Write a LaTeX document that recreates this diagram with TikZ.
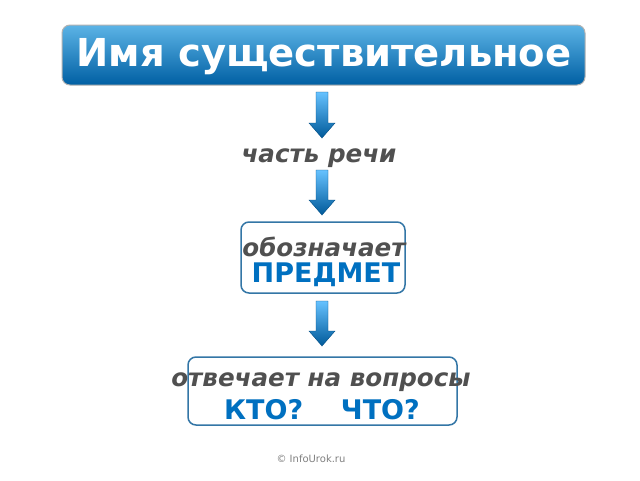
\documentclass[tikz,border=0pt]{standalone}
\usepackage{fontspec}
\setmainfont{DejaVu Sans}
\definecolor{bl}{RGB}{0,112,192}
\definecolor{tx}{RGB}{80,80,80}
\tikzset{
  darr/.style={top color=blue!40!cyan!60!white, bottom color=bl!80!black, draw=bl!70!black, line width=0.4pt},
  wbox/.style={draw=bl!60!gray, line width=1.5pt, rounded corners=8pt, fill=white},
  gtxt/.style={text=tx, font=\bfseries\itshape\fontsize{24.6}{26}\selectfont},
  btxt/.style={text=bl, font=\bfseries\fontsize{27}{29}\selectfont}
}
\newcommand{\downarr}[3]{% x, ytop, ytip
  \shade[darr] (#1-6,#2) -- (#1+6,#2) -- (#1+6,#3-15) -- (#1+13,#3-15) -- (#1,#3) -- (#1-13,#3-15) -- (#1-6,#3-15) -- cycle;}
\begin{document}
\begin{tikzpicture}[x=1pt,y=-1pt]
\useasboundingbox (0,0) rectangle (640,480);
\fill[white] (0,0) rectangle (640,480);
\shade[top color=blue!30!cyan!40!white!60!bl, bottom color=bl!85!black, rounded corners=8pt, draw=gray!60, line width=1pt] (62,25) rectangle (585,85);
\node (title) at (324,57) {\textcolor{white}{\bfseries\fontsize{38.5}{40}\selectfont Имя существительное}};
\downarr{322}{92}{138}
\node[gtxt] (part) at (319,158) {часть речи};
\downarr{322}{170}{215}
\draw[wbox] (241,222) rectangle (405,293);
\node[gtxt] (obo) at (324,247) {обозначает};
\node[btxt] (pred) at (326,275) {ПРЕДМЕТ};
\downarr{322}{301}{346}
\draw[wbox] (188,357) rectangle (457,425);
\node[gtxt] (otv) at (321,382) {отвечает на вопросы};
\node[btxt] (kto) at (322,410) {КТО?\hspace{1.4em}ЧТО?};
\node[text=gray, font=\fontsize{10}{11}\selectfont] (foot) at (311,459) {© InfoUrok.ru};
\end{tikzpicture}
\end{document}
